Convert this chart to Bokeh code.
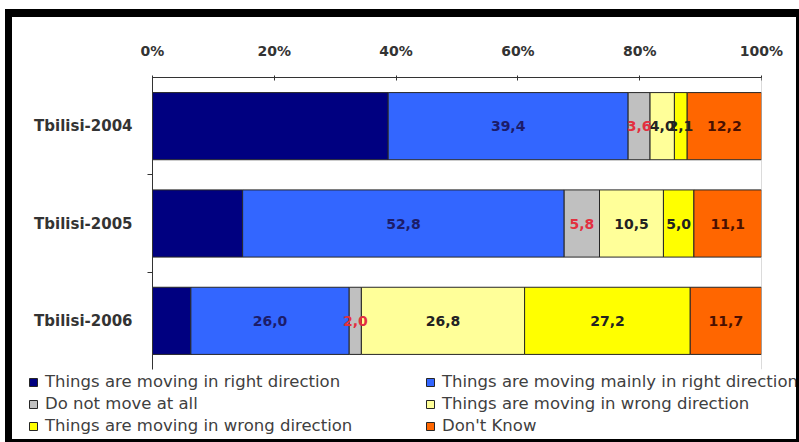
from bokeh.plotting import figure
from bokeh.layouts import column
from bokeh.models import ColumnDataSource, FixedTicker, Legend, LegendItem, Span, Range1d
from bokeh.core.properties import value
from bokeh.embed import file_html
from bokeh.resources import INLINE

# ---- data ----
categories = ["Tbilisi-2004", "Tbilisi-2005", "Tbilisi-2006"]
right_dir = [38.7, 14.8, 6.3]
mainly_right = [39.4, 52.8, 26.0]
no_move = [3.6, 5.8, 2.0]
wrong_dir = [4.0, 10.5, 26.8]
wrong_dir2 = [2.1, 5.0, 27.2]
dont_know = [12.2, 11.1, 11.7]
series_names = [
    "Things are moving in right direction",
    "Things are moving mainly in right direction",
    "Do not move at all",
    "Things are moving in wrong direction",
    "Things are moving in wrong direction",
    "Don't Know",
]
series_values = [right_dir, mainly_right, no_move, wrong_dir, wrong_dir2, dont_know]
show_labels = [False, True, True, True, True, True]
x_ticks = [0, 20, 40, 60, 80, 100]
x_tick_labels = ["0%", "20%", "40%", "60%", "80%", "100%"]

# ---- styles ----
colors = ["#000080", "#3366ff", "#c0c0c0", "#ffff99", "#ffff00", "#ff6600"]
label_colors = ["#000000", "#1c1c6a", "#e23040", "#222222", "#222222", "#4a1000"]
FONT = "DejaVu Sans"

n = len(categories)
p = figure(width=784, height=355, x_range=(0, 100), y_range=(0, n),
           x_axis_location="above", output_backend="svg", toolbar_location=None,
           min_border_left=140, min_border_right=35, min_border_top=60,
           min_border_bottom=3)
p.frame_align = False
p.outline_line_color = None
p.xgrid.visible = False
p.ygrid.visible = False
p.background_fill_color = "white"
p.border_fill_color = "white"

ys = [n - 0.5 - i for i in range(n)]
lefts = [0.0] * n
sources = []
for k, (name, vals) in enumerate(zip(series_names, series_values)):
    rights = [l + v for l, v in zip(lefts, vals)]
    src = ColumnDataSource(dict(
        y=ys, left=lefts, right=rights,
        mid=[(l + r) / 2 for l, r in zip(lefts, rights)],
        lab=[f"{v:.1f}".replace(".", ",") for v in vals]))
    p.hbar(y="y", left="left", right="right", height=0.69, source=src,
           fill_color=colors[k], line_color="#262626", line_width=1)
    sources.append(src)
    lefts = rights

for k, src in enumerate(sources):
    if show_labels[k]:
        p.text(x="mid", y="y", text="lab", source=src,
               text_font=value(FONT), text_font_style="bold",
               text_font_size="14px", text_color=label_colors[k],
               text_align="center", text_baseline="middle")

p.add_layout(Span(location=100, dimension="height", line_color="#b8b8b8", line_width=1))

# x axis (top)
xa = p.xaxis[0]
xa.ticker = FixedTicker(ticks=x_ticks)
xa.major_label_overrides = {t: s for t, s in zip(x_ticks, x_tick_labels)}
xa.major_label_text_font = FONT
xa.major_label_text_font_style = "bold"
xa.major_label_text_font_size = "14px"
xa.major_label_text_color = "#333333"
xa.major_tick_in = 3
xa.major_tick_out = 2
xa.minor_tick_line_color = None
xa.axis_line_color = "#333333"
xa.major_tick_line_color = "#333333"
xa.major_label_standoff = 17

# y axis (left)
ya = p.yaxis[0]
ya.ticker = FixedTicker(ticks=ys, minor_ticks=[float(i) for i in range(1, n)])
ya.major_label_overrides = {y: c for y, c in zip(ys, categories)}
ya.major_label_text_font = FONT
ya.major_label_text_font_style = "bold"
ya.major_label_text_font_size = "15px"
ya.major_label_text_color = "#333333"
ya.major_tick_line_color = None
ya.major_tick_out = 0
ya.major_tick_in = 0
ya.minor_tick_in = 0
ya.minor_tick_out = 5
ya.minor_tick_line_color = "#333333"
ya.axis_line_color = "#333333"
ya.major_label_standoff = 15

# ---- legend strip ----
pl = figure(width=784, height=67, x_range=Range1d(0, 100), y_range=Range1d(100, 101),
            x_axis_location=None, y_axis_location=None, min_border=0,
            output_backend="svg", toolbar_location=None)
pl.frame_align = False
pl.outline_line_color = None
pl.xgrid.visible = False
pl.ygrid.visible = False
pl.border_fill_color = "white"
pl.background_fill_color = "white"
items = []
for k, name in enumerate(series_names):
    r = pl.hbar(y="y", left="left", right="right", height=0.69, source=sources[k],
                fill_color=colors[k], line_color="#262626", line_width=1)
    items.append(LegendItem(label=name, renderers=[r]))

legend = Legend(items=items, orientation="horizontal", ncols=2,
                location=(16, 4), label_text_font=FONT,
                label_text_font_size="16.5px", label_text_color="#404040",
                glyph_width=10, glyph_height=10, label_standoff=7,
                spacing=3, padding=0, margin=0, border_line_color=None,
                background_fill_alpha=0, label_width=377)
pl.add_layout(legend, "center")

layout = column(p, pl, spacing=0)
layout.styles = {"border-style": "solid", "border-color": "black",
                 "border-width": "8px 3px 3px 7px", "margin-left": "5px",
                 "margin-top": "9px"}

open("out.html", "w").write(file_html(layout, INLINE))
